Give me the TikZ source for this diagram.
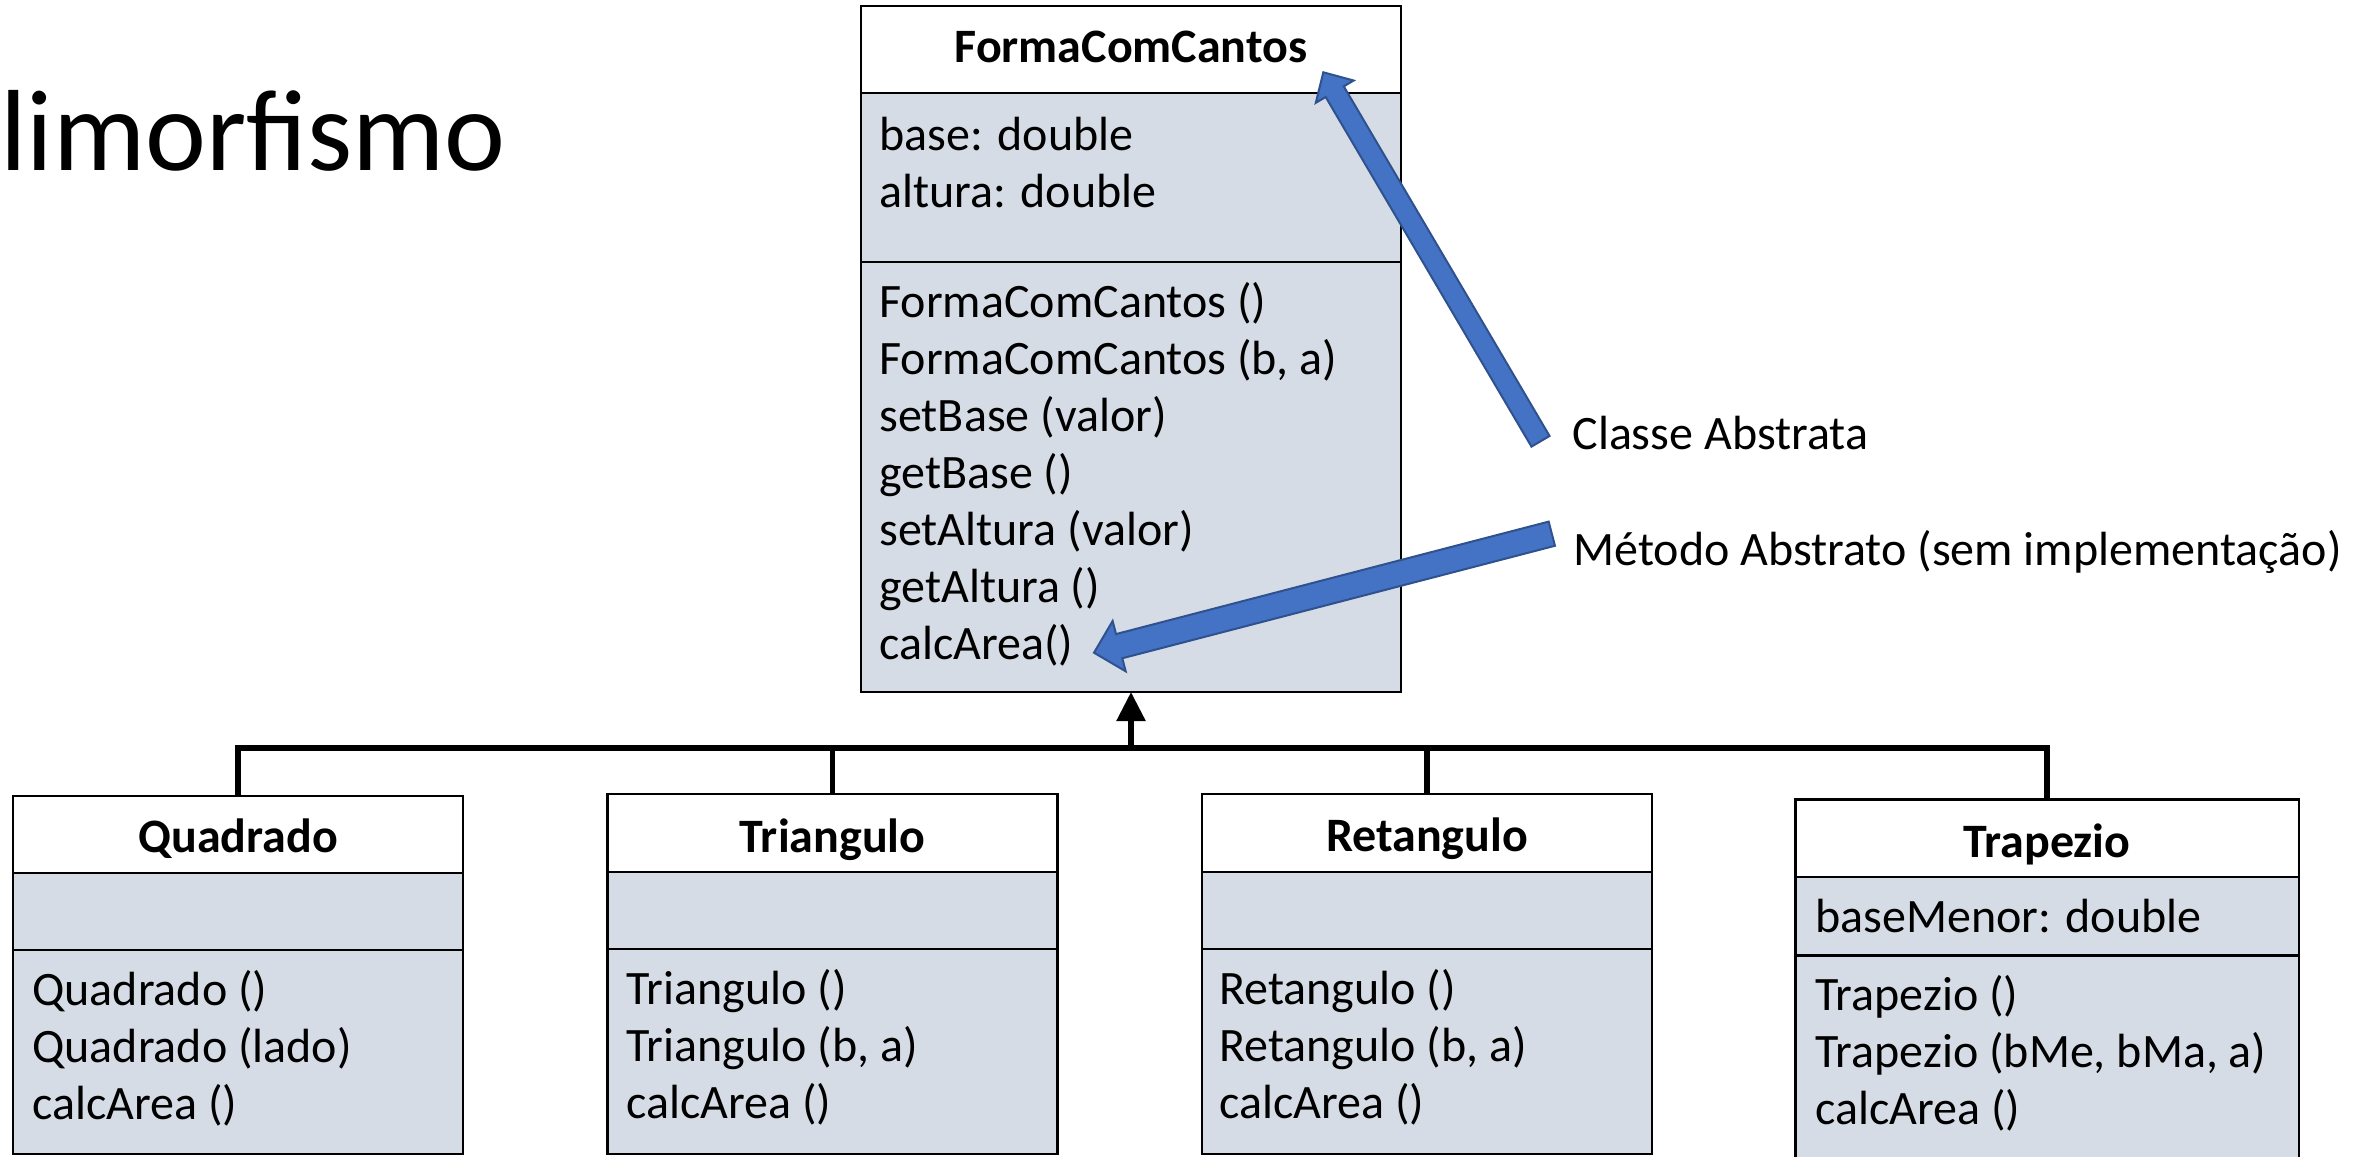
\documentclass[tikz,border=0pt]{standalone}
\usepackage{fontspec}
\setmainfont{Carlito}
\usetikzlibrary{calc,arrows.meta}
\definecolor{bodyfill}{HTML}{D6DCE5}
\definecolor{arrowfill}{HTML}{4472C4}
\definecolor{arrowline}{HTML}{2F528F}
\tikzset{
  part/.style={draw=black, line width=1.2pt, anchor=north west, inner sep=0pt, outer sep=0pt},
  hdr/.style={part, fill=white},
  body/.style={part, fill=bodyfill},
  ttl/.style={anchor=base, inner sep=0pt, font=\fontsize{24pt}{28.5pt}\selectfont\bfseries},
  txt/.style={anchor=base west, inner sep=0pt, font=\fontsize{24pt}{28.5pt}\selectfont},
  conn/.style={draw=black, line width=2.75pt},
  barrow/.style={fill=arrowfill, draw=arrowline, line width=1pt, line join=miter}
}
\newcommand\blockarrow[6]{%
  \coordinate (#1b) at ($(#3)!#6!(#2)$);
  \draw[barrow] ($(#2)!#4!90:(#3)$) -- ($(#1b)!#4!90:(#3)$) -- ($(#1b)!#5!90:(#3)$) -- (#3)
    -- ($(#1b)!#5!-90:(#3)$) -- ($(#1b)!#4!-90:(#3)$) -- ($(#2)!#4!-90:(#3)$) -- cycle;}
\begin{document}
\begin{tikzpicture}[x=0.5pt,y=-0.5pt]
\useasboundingbox (0,0) rectangle (2359,1156);
\clip (0,0) rectangle (2359,1156);

% slide title (cut at left)
\node[anchor=base west, inner sep=0pt, font=\fontsize{57.7pt}{68pt}\selectfont] (title) at (0,170) {limorfismo};

% FormaComCantos
\node[hdr, minimum width=270pt, minimum height=43.5pt] (fccH) at (861,6) {};
\node[body, minimum width=270pt, minimum height=84.5pt] (fccA) at (861,93) {};
\node[body, minimum width=270pt, minimum height=215pt] (fccM) at (861,262) {};
\node[ttl] (fccT) at (1131,62.5) {FormaComCantos};
\foreach \t [count=\i from 0] in {{base: double},{altura: double}}
  \node[txt] (fccA\i) at (879,150.5+57*\i) {\t};
\foreach \t [count=\i from 0] in {{FormaComCantos ()},{FormaComCantos (b, a)},{setBase (valor)},{getBase ()},{setAltura (valor)},{getAltura ()},{calcArea()}}
  \node[txt] (fccM\i) at (879,317.5+57*\i) {\t};

% Quadrado
\node[hdr, minimum width=225pt, minimum height=38.5pt] (quadH) at (13,796) {};
\node[body, minimum width=225pt, minimum height=38.5pt] (quadA) at (13,873) {};
\node[body, minimum width=225pt, minimum height=102pt] (quadM) at (13,950) {};
\node[ttl] (quadT) at (238,852) {Quadrado};
\foreach \t [count=\i from 0] in {{Quadrado ()},{Quadrado (lado)},{calcArea ()}}
  \node[txt] (quadM\i) at (32,1005.5+57*\i) {\t};

% Triangulo
\node[hdr, minimum width=225pt, minimum height=39pt] (triH) at (607.5,794) {};
\node[body, minimum width=225pt, minimum height=38.5pt] (triA) at (607.5,872) {};
\node[body, minimum width=225pt, minimum height=102.5pt] (triM) at (607.5,949) {};
\node[ttl] (triT) at (832.5,852) {Triangulo};
\foreach \t [count=\i from 0] in {{Triangulo ()},{Triangulo (b, a)},{calcArea ()}}
  \node[txt] (triM\i) at (626,1004.5+57*\i) {\t};

% Retangulo
\node[hdr, minimum width=225pt, minimum height=39pt] (retH) at (1202,794) {};
\node[body, minimum width=225pt, minimum height=38.5pt] (retA) at (1202,872) {};
\node[body, minimum width=225pt, minimum height=102.5pt] (retM) at (1202,949) {};
\node[ttl] (retT) at (1427,851.3) {Retangulo};
\foreach \t [count=\i from 0] in {{Retangulo ()},{Retangulo (b, a)},{calcArea ()}}
  \node[txt] (retM\i) at (1219,1004.2+57*\i) {\t};

% Trapezio
\node[hdr, minimum width=251.7pt, minimum height=38.7pt] (trapH) at (1795.4,799.3) {};
\node[body, minimum width=251.7pt, minimum height=39.3pt] (trapA) at (1795.4,876.7) {};
\node[body, minimum width=251.7pt, minimum height=120pt] (trapM) at (1795.4,955.3) {};
\node[ttl] (trapT) at (2047,857) {Trapezio};
\node[txt] (trapA0) at (1815,932) {baseMenor: double};
\foreach \t [count=\i from 0] in {{Trapezio ()},{Trapezio (bMe, bMa, a)},{calcArea ()}}
  \node[txt] (trapM\i) at (1815,1010+57*\i) {\t};

% inheritance connectors
\coordinate (bar) at (1131,748);
\draw[conn] (quadH.north) |- (bar) -| (trapH.north);
\draw[conn] (triH.north) -- (triH.north |- bar);
\draw[conn] (retH.north) -- (retH.north |- bar);
\draw[conn, -{Triangle[width=14pt,length=14.5pt]}] (bar) -- (fccM.south);

% labels
\node[txt] (lblClasse) at (1572,449) {Classe Abstrata};
\node[txt] (lblMetodo) at (1573,565) {Método Abstrato (sem implementação)};

% blue block arrows
\coordinate (a1t) at (1540.5,441.3);
\coordinate (a1h) at (1323.3,72.3);
\blockarrow{a1}{a1t}{a1h}{5.25pt}{11pt}{11.25pt}
\coordinate (a2t) at (1551.8,533.7);
\coordinate (a2h) at (1094,652.7);
\blockarrow{a2}{a2t}{a2h}{6.25pt}{13pt}{13pt}
\end{tikzpicture}
\end{document}
